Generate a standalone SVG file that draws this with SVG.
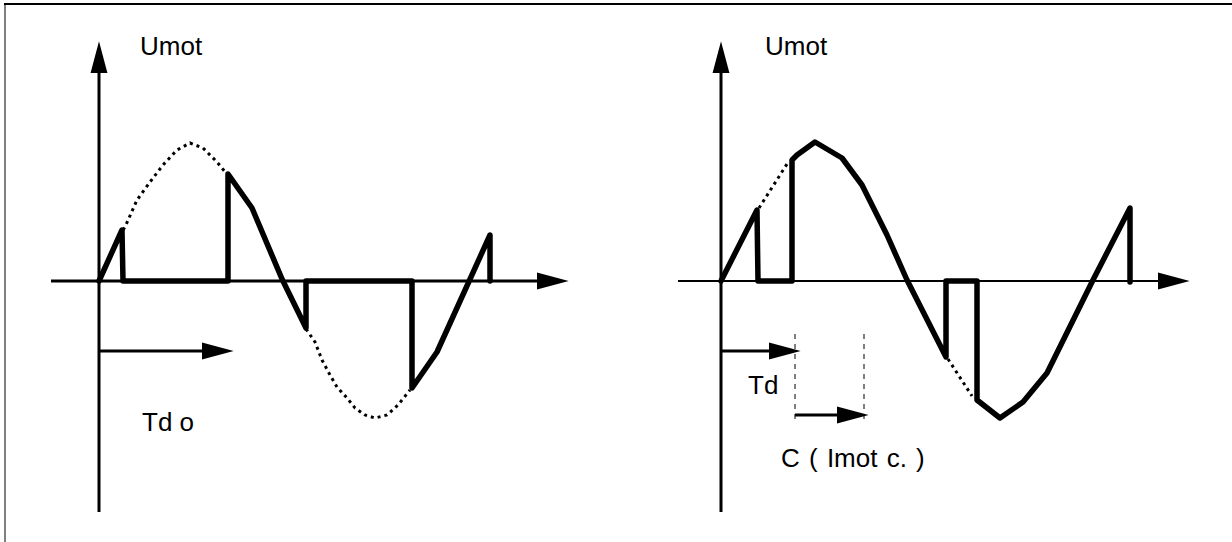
<svg xmlns="http://www.w3.org/2000/svg" width="1232" height="542" viewBox="0 0 1232 542">
  <style>
    .arrow { stroke: #000; stroke-width: 3; fill: none; marker-end: url(#head); }
    .wave { stroke: #000; stroke-width: 5.5; fill: none; stroke-linejoin: round; stroke-linecap: round; }
    .dots { stroke: #000; stroke-width: 3; fill: none; stroke-dasharray: 3 4; }
    .dash { stroke: #000; stroke-width: 1; fill: none; stroke-dasharray: 5 5; }
    .label { font-family: "Liberation Sans", Arial, sans-serif; font-size: 26px; fill: #000; }
  </style>
  <defs>
    <marker id="head" markerUnits="userSpaceOnUse" markerWidth="32" markerHeight="18" viewBox="0 0 30 16" refX="5" refY="8" orient="auto">
      <path d="M0,0 L30,8 L0,16 Z" fill="#000"/>
    </marker>
  </defs>
  <rect width="1232" height="542" fill="#fff"/>
  <g id="frame">
    <line x1="4" y1="4" x2="1232" y2="4" stroke="#000" stroke-width="2"/>
    <line x1="5" y1="4" x2="5" y2="542" stroke="#000" stroke-width="1"/>
  </g>
  <g id="connectors">
    <line class="arrow" x1="99" y1="512" x2="99" y2="68"/>
    <line class="arrow" x1="51" y1="281" x2="542" y2="281"/>
    <line class="arrow" x1="99" y1="351" x2="207" y2="351"/>
    <line class="arrow" x1="721" y1="512" x2="721" y2="68"/>
    <line class="arrow" x1="678" y1="281" x2="1163" y2="281" style="stroke-width:2"/>
    <line class="arrow" x1="721" y1="351" x2="774" y2="351"/>
    <line class="arrow" x1="795" y1="415" x2="842" y2="415"/>
    <line class="dash" x1="795" y1="334" x2="795" y2="422"/>
    <line class="dash" x1="864" y1="334" x2="864" y2="422"/>
  </g>
  <g id="left-wave">
    <polyline class="dots" points="123,230 125,227 137,200 150,182 163,165 177,150 190,143 203,148 217,162 226,173"/>
    <polyline class="dots" points="306,329 315,342 322,360 330,375 337,387 347,398 355,408 365,415 375,418 387,415 398,405 410,390"/>
    <path class="wave" d="M99,281 L122,230 L123,281 L228,281 L228,174 L252,208 L282,279 L306,328 L306,281 L412,281 L412,388 L437,352 L490,235 L490,281"/>
  </g>
  <g id="right-wave">
    <polyline class="dots" points="759,208 787,164"/>
    <polyline class="dots" points="948,359 972,396"/>
    <path class="wave" d="M721,281 L757,210 L758,281 L792,281 L792,160 L797,155 L815,142 L842,158 L862,185 L887,235 L907,280 L946,357 L946,281 L977,281 L977,400 L1000,418 L1023,402 L1047,373 L1093,280 L1130,208 L1130,282"/>
  </g>
  <g id="labels">
    <text class="label" x="140" y="55">Umot</text>
    <text class="label" x="142" y="431">Td o</text>
    <text class="label" x="765" y="55">Umot</text>
    <text class="label" x="748" y="394">Td</text>
    <text class="label" x="781" y="467" word-spacing="2">C ( Imot c. )</text>
  </g>
</svg>
